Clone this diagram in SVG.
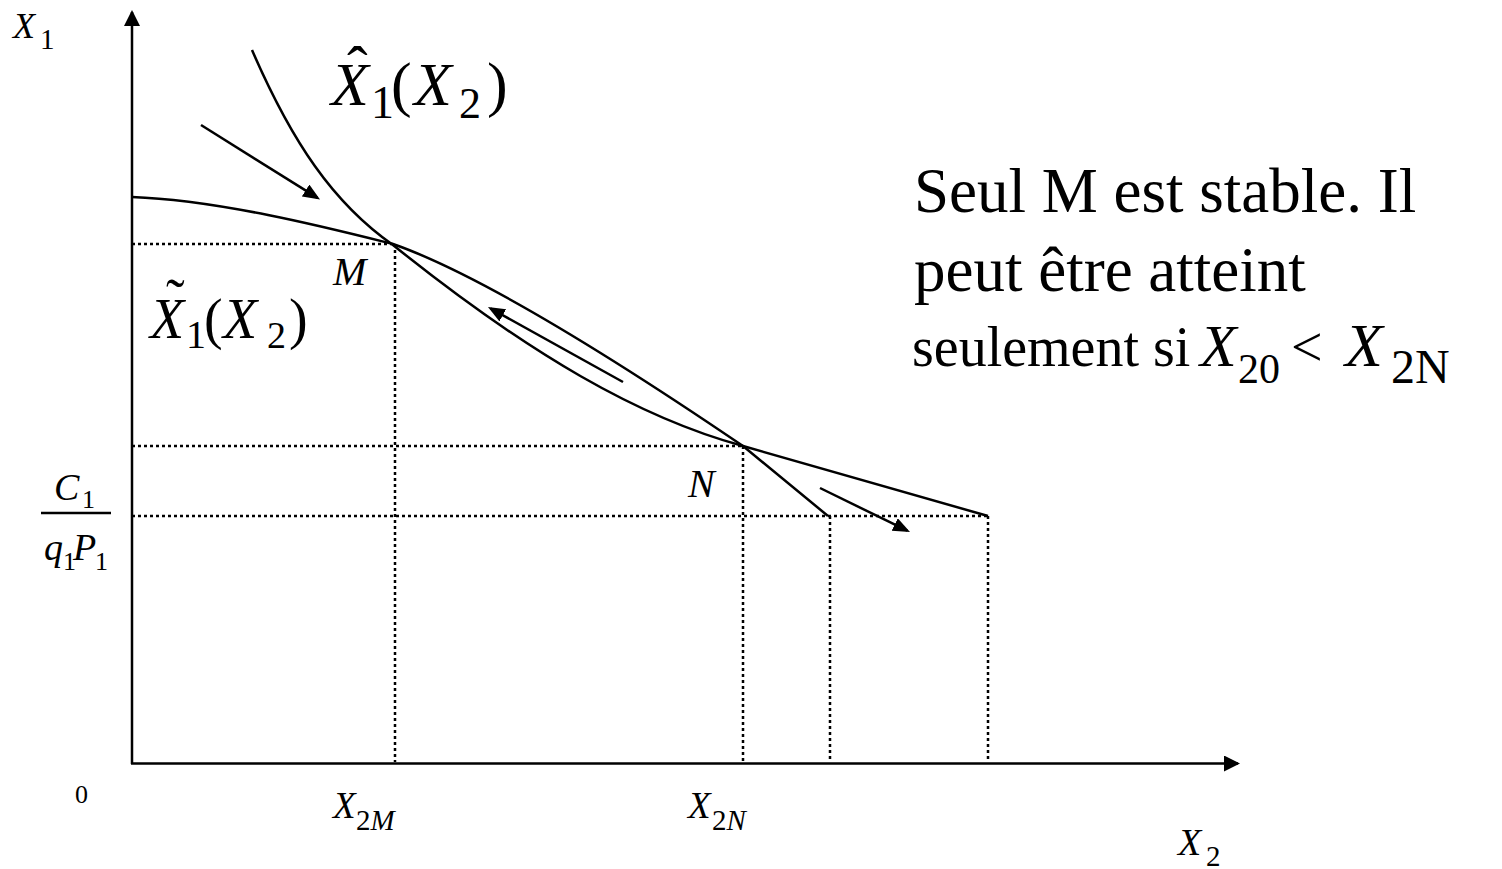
<svg xmlns="http://www.w3.org/2000/svg" width="1502" height="869" viewBox="0 0 1502 869">
<style>
text{font-family:"Liberation Serif","Times New Roman",serif;fill:#000}
.it{font-style:italic}
.ax{stroke:#000;stroke-width:2.5;fill:none}
.cv{stroke:#000;stroke-width:2.5;fill:none}
.dt{stroke:#000;stroke-width:2.5;fill:none;stroke-dasharray:3 3}
.ar{stroke:#000;stroke-width:2.5;fill:none;marker-end:url(#ah)}
</style>
<defs>
<marker id="ah" markerUnits="userSpaceOnUse" markerWidth="19" markerHeight="15" refX="14" refY="7" orient="auto"><path d="M0,0 L17,7 L0,14 z" fill="#000"/></marker>
<marker id="axh" markerUnits="userSpaceOnUse" markerWidth="18" markerHeight="16" refX="14" refY="8" orient="auto"><path d="M0,0 L16,8 L0,16 z" fill="#000"/></marker>
</defs>
<rect width="1502" height="869" fill="#fff"/>
<g id="axes">
<line class="ax" x1="132" y1="764" x2="132" y2="12" marker-end="url(#axh)"/>
<line class="ax" x1="131" y1="763.5" x2="1238" y2="763.5" marker-end="url(#axh)"/>
</g>
<g id="guides">
<path class="dt" d="M132,244 H393 M395,244 V762 M132,446 H743 M743,446 V762 M132,516 H988 M830,516 V762 M988,516 V762"/>
</g>
<g id="curves">
<path id="tilde-curve" class="cv" d="M132,197 C220,200 333,229 393,244 C490,278 643,378 743,446 L828,516"/>
<path id="hat-curve" class="cv" d="M252,50 C292,142 333,203 393,245 C530,355 640,418 743,446 L988,516"/>
</g>
<g id="connectors">
<line class="ar" x1="201" y1="125" x2="317.5" y2="197.9"/>
<line class="ar" x1="623" y1="382" x2="490.6" y2="308.5"/>
<line class="ar" x1="820" y1="488" x2="907.3" y2="530.7"/>
</g>
<g id="labels">
<text font-size="36"><tspan class="it" x="13" y="38">X</tspan><tspan x="40" y="49" font-size="29">1</tspan></text>
<text font-size="62"><tspan class="it" x="331" y="105">X</tspan><tspan x="371" y="118" font-size="46">1</tspan><tspan x="391" y="105">(</tspan><tspan class="it" x="414" y="105">X</tspan><tspan x="459" y="118" font-size="44">2</tspan><tspan x="487" y="105">)</tspan><tspan x="347" y="89">ˆ</tspan></text>
<text font-size="56"><tspan class="it" x="150" y="338">X</tspan><tspan x="186" y="348" font-size="40">1</tspan><tspan x="204" y="338">(</tspan><tspan class="it" x="223" y="338">X</tspan><tspan x="267" y="348" font-size="38">2</tspan><tspan x="289" y="338">)</tspan><tspan x="166" y="318">˜</tspan></text>
<text class="it" font-size="40" x="333" y="285">M</text>
<text class="it" font-size="40" x="688" y="497">N</text>
<text font-size="38"><tspan class="it" x="54" y="500">C</tspan><tspan x="82" y="508" font-size="26">1</tspan></text>
<line x1="41" y1="513" x2="111" y2="513" stroke="#000" stroke-width="2.5"/>
<text font-size="38"><tspan class="it" x="44" y="560">q</tspan><tspan x="63" y="570" font-size="26">1</tspan><tspan class="it" x="73" y="560">P</tspan><tspan x="95" y="570" font-size="26">1</tspan></text>
<text font-size="26" x="75" y="803">0</text>
<text font-size="37"><tspan class="it" x="333" y="818">X</tspan><tspan x="356" y="830" font-size="29">2</tspan><tspan class="it" font-size="29">M</tspan></text>
<text font-size="37"><tspan class="it" x="688" y="818">X</tspan><tspan x="712" y="830" font-size="29">2</tspan><tspan class="it" font-size="29">N</tspan></text>
<text font-size="38"><tspan class="it" x="1178" y="855">X</tspan><tspan x="1206" y="866" font-size="29">2</tspan></text>
</g>
<g id="note">
<text font-size="63" x="914" y="212">Seul M est stable. Il</text>
<text font-size="63" x="914" y="291">peut être atteint</text>
<text font-size="56" y="366"><tspan x="912">seulement si</tspan><tspan class="it" x="1200" font-size="60">X</tspan><tspan x="1238" y="383" font-size="42">20</tspan><tspan x="1291" y="366">&lt;</tspan><tspan class="it" x="1345" font-size="62">X</tspan><tspan x="1391" y="383" font-size="48">2N</tspan></text>
</g>
</svg>
